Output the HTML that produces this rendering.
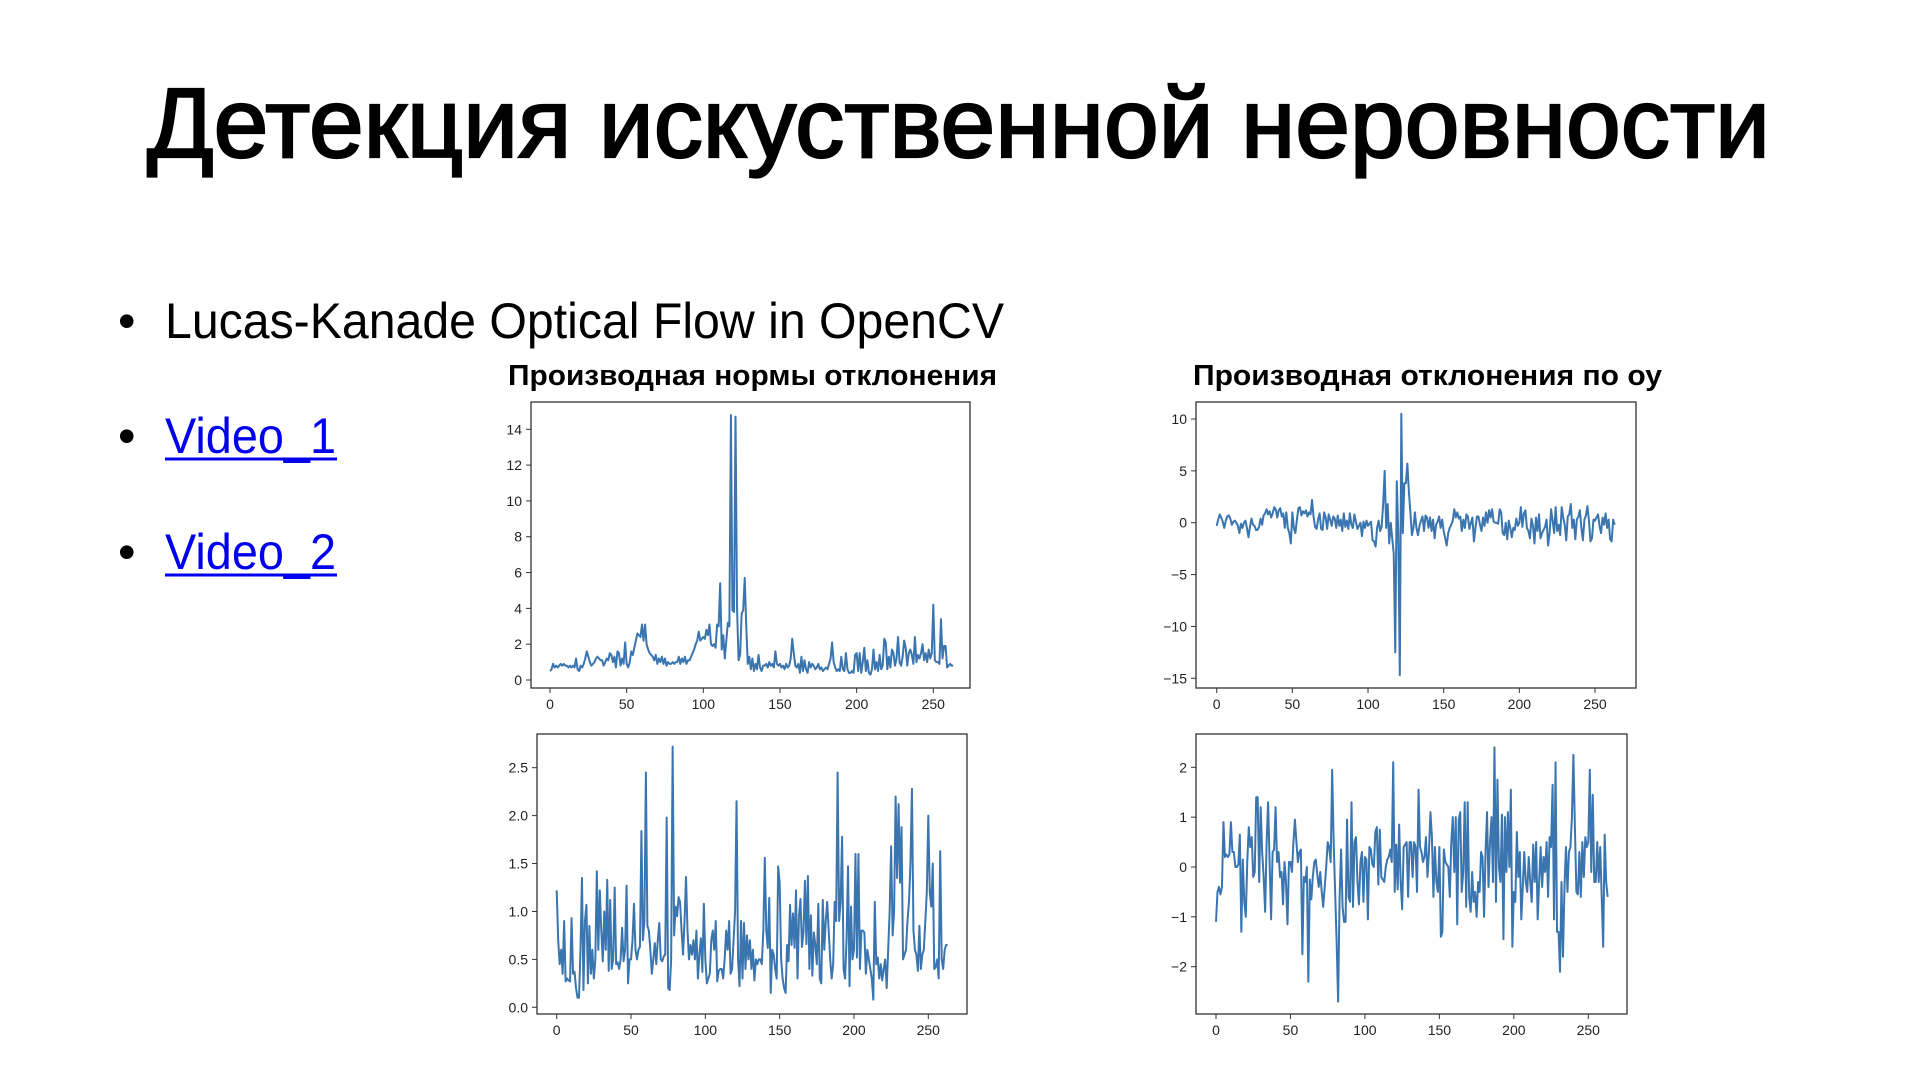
<!DOCTYPE html>
<html><head><meta charset="utf-8"><style>
html,body{margin:0;padding:0;background:#fff;}
svg{display:block;font-family:"Liberation Sans","DejaVu Sans",sans-serif;}
</style></head><body>
<svg id="s" width="1920" height="1080" viewBox="0 0 1920 1080">
<text x="147" y="157" font-size="98" stroke="#000" stroke-width="2.2" textLength="1623" lengthAdjust="spacingAndGlyphs">Детекция искуственной неровности</text>
<text x="118" y="338" font-size="50">•</text>
<text x="165" y="338" font-size="50" textLength="839" lengthAdjust="spacingAndGlyphs">Lucas-Kanade Optical Flow in OpenCV</text>
<text x="118" y="453" font-size="50">•</text>
<text x="165" y="453" font-size="50" fill="#0000ee" textLength="171" lengthAdjust="spacingAndGlyphs">Video_1</text>
<line x1="165" y1="459" x2="337" y2="459" stroke="#0000ee" stroke-width="3"/>
<text x="118" y="569" font-size="50">•</text>
<text x="165" y="569" font-size="50" fill="#0000ee" textLength="171" lengthAdjust="spacingAndGlyphs">Video_2</text>
<line x1="165" y1="575" x2="337" y2="575" stroke="#0000ee" stroke-width="3"/>
<text x="508" y="385" font-size="29" font-weight="bold" textLength="489" lengthAdjust="spacingAndGlyphs">Производная нормы отклонения</text>
<text x="1193" y="385" font-size="29" font-weight="bold" textLength="469" lengthAdjust="spacingAndGlyphs">Производная отклонения по оу</text>
</svg>
<script>
const xTicks = [0,50,100,150,200,250];
const normTicks = [0,2,4,6,8,10,12,14];
const oyTicks = [-15,-10,-5,0,5,10];
const norm2Ticks = [0.0,0.5,1.0,1.5,2.0,2.5];
const oy2Ticks = [-2,-1,0,1,2];
const normValues = [
0.5,0.6,0.9,0.7,0.8,0.7,0.8,0.9,0.8,0.9,
0.8,0.8,0.7,0.8,0.7,0.8,0.7,1.2,0.6,0.5,
0.8,0.7,0.9,1.2,1.6,1.3,1.0,0.8,0.9,1.0,
1.2,1.3,1.2,1.1,1.1,0.8,1.0,1.2,1.1,1.5,
1.4,1.0,1.3,0.7,1.6,1.5,0.8,1.2,0.9,2.1,
0.9,0.7,1.0,1.6,1.4,1.8,2.2,2.6,2.5,2.4,
3.1,2.2,3.1,2.0,1.7,1.5,1.4,1.3,1.1,1.4,
0.9,1.2,1.0,1.3,0.9,1.2,0.8,1.0,0.9,0.9,
1.0,0.9,1.0,1.0,1.3,0.9,1.2,1.0,1.3,0.9,
1.1,1.1,1.3,1.5,1.7,2.0,2.2,2.7,2.2,2.3,
2.4,2.3,2.8,2.5,3.1,2.0,1.9,2.0,1.8,3.1,
3.0,5.4,1.7,2.5,1.2,2.2,3.2,3.0,14.8,3.9,
3.8,14.7,4.0,1.1,1.4,3.7,3.9,5.7,3.0,0.9,
1.3,0.6,1.2,0.5,0.9,0.6,1.4,0.7,0.5,0.8,
0.8,0.9,0.7,1.0,0.8,0.9,0.7,1.6,0.9,0.8,
0.9,0.7,0.8,0.6,0.9,0.7,0.8,1.2,2.3,1.5,
0.8,0.7,0.9,0.4,1.3,0.5,1.1,0.6,0.4,1.0,
0.7,0.9,0.8,0.6,0.7,0.9,0.6,0.7,0.5,0.6,
0.7,0.6,0.9,1.2,2.1,1.0,0.7,0.5,0.6,0.5,
1.3,0.6,0.5,1.5,0.6,0.4,0.4,0.5,0.4,1.4,
1.5,0.5,1.5,0.4,1.0,1.8,0.5,1.1,0.4,0.3,
0.6,1.7,0.6,1.0,0.5,1.4,0.6,0.8,2.3,2.1,
0.6,1.3,0.7,1.7,1.5,0.8,1.2,2.4,1.0,0.8,
1.3,2.2,1.8,0.8,1.5,1.7,1.4,0.9,2.4,1.0,
1.4,1.2,1.5,2.0,1.1,1.5,1.0,1.7,1.2,1.5,
4.2,1.1,1.0,1.0,0.9,3.4,1.2,1.9,1.9,0.7,
0.8,0.9,0.8,0.8];
const oyValues = [
-0.3,0.3,0.8,0.5,0.1,-0.5,0.2,0.6,0.7,0.4,
-0.2,0.1,0.2,0.0,-0.3,-1.0,-0.1,-0.5,0.0,0.2,
-0.5,-1.4,-0.4,0.4,-0.2,-0.3,-0.7,-0.7,-0.4,0.4,
-0.2,0.7,0.9,1.3,0.8,1.1,0.5,0.9,1.5,1.3,
0.5,1.2,1.4,0.6,0.9,-0.5,1.0,-0.5,-1.0,-2.0,
1.0,-0.5,-1.0,0.3,1.4,1.5,0.7,1.1,0.9,1.2,
0.6,1.0,0.8,2.2,0.6,-0.4,-0.6,0.3,0.9,-0.6,
-0.7,1.0,0.5,-0.6,0.8,0.3,-0.3,0.6,0.4,-0.5,
0.7,-0.3,0.3,-0.8,0.9,-0.4,0.2,-0.6,0.9,-0.2,
-0.5,0.8,0.1,-0.6,-0.3,0.0,-1.3,0.1,-0.5,0.2,
-0.3,-0.1,0.1,-1.7,-1.8,-2.3,-0.5,0.2,-0.8,-0.4,
1.8,5.0,-0.5,1.8,-2.0,0.0,-1.5,-3.0,-12.5,4.0,
-1.0,-14.7,10.5,-1.0,3.8,3.8,5.7,3.0,1.0,-1.2,
-0.5,1.0,-0.5,-1.2,-0.3,0.2,0.6,-0.8,0.7,0.5,
-0.5,0.5,-0.8,0.3,-1.5,-0.2,0.1,0.6,-0.5,0.3,
-0.8,-1.5,-2.2,-1.0,-0.5,-0.2,0.2,1.3,0.5,1.0,
0.4,0.6,-0.8,0.3,-0.5,0.8,0.6,-0.6,0.0,0.5,
-1.8,-0.5,0.6,0.6,-0.2,-0.8,0.5,-0.3,1.0,0.0,
1.2,0.5,1.3,0.1,0.0,0.0,-0.1,1.3,1.0,-1.0,
-1.2,0.0,-1.6,0.2,-0.5,-1.4,-0.5,-0.7,0.4,-0.3,
0.0,1.5,-0.4,0.9,1.2,-0.5,-0.8,-1.5,0.4,-0.3,
-2.0,0.5,-0.8,0.8,-1.5,-1.0,-0.7,-0.4,0.3,-2.2,
-1.0,1.3,0.2,-1.0,1.5,-0.8,-0.2,-1.2,1.5,0.5,
-0.2,-1.7,0.6,0.8,1.8,-0.5,0.3,-1.6,0.3,0.6,
1.2,-0.5,-1.7,0.3,0.7,1.6,0.2,-1.8,-1.5,0.3,
0.2,0.5,0.8,-0.3,-1.0,0.5,-0.2,0.9,-0.5,0.3,
-1.6,-1.8,0.3,-0.2];
const norm2Values = [
1.22,0.7,0.45,0.6,0.35,0.9,0.27,0.3,0.28,0.27,
0.93,0.35,0.37,0.2,0.1,0.1,0.6,1.35,0.18,0.9,
1.07,0.25,0.85,0.35,0.6,0.3,0.5,1.42,0.6,1.22,
0.8,0.48,1.0,0.6,1.33,0.38,1.12,0.4,0.5,1.25,
0.45,0.47,0.4,0.5,0.83,0.48,0.6,1.27,0.25,0.5,
0.5,0.7,1.08,0.6,0.5,0.6,0.63,1.84,0.7,0.9,
2.45,0.85,0.8,0.6,0.35,0.5,0.67,0.45,0.7,0.88,
0.5,0.48,0.53,0.55,1.98,0.2,0.18,0.5,2.72,0.75,
1.05,0.95,1.15,1.1,0.8,0.55,0.9,1.36,0.8,0.5,
0.65,0.55,0.7,0.5,0.8,0.3,0.55,0.72,0.37,1.08,
0.5,0.25,0.3,0.35,0.7,0.8,0.6,0.9,0.27,0.38,
0.4,0.4,0.3,0.5,0.8,0.6,0.9,0.35,0.4,0.7,
1.0,2.15,0.5,0.22,0.9,0.3,0.88,0.4,0.75,0.5,
0.7,0.4,0.6,0.28,0.5,0.45,0.5,0.5,0.45,0.8,
1.56,0.8,0.62,1.14,0.15,0.6,0.55,0.4,0.3,1.47,
1.3,0.5,0.3,0.2,0.15,0.65,0.48,1.07,0.65,0.98,
0.62,1.22,0.3,0.95,1.13,0.63,0.78,1.32,0.66,1.37,
0.4,0.96,0.33,0.78,0.65,0.45,1.08,0.3,0.25,1.12,
0.6,0.9,1.1,0.8,0.5,0.3,0.45,1.1,0.9,2.45,
0.9,1.1,1.78,0.4,0.3,0.7,1.47,0.22,1.05,0.5,
0.6,1.6,0.52,1.6,0.4,0.8,0.8,0.78,0.35,0.6,
0.5,0.4,0.3,0.08,1.1,0.45,0.52,0.3,0.45,0.28,
0.4,0.5,0.2,0.6,1.0,1.68,0.75,1.0,2.2,1.35,
2.12,1.3,1.88,0.5,0.55,0.6,0.9,1.1,1.5,2.28,
0.8,0.6,0.55,0.38,0.85,0.4,0.55,0.6,0.9,1.2,
2.0,1.2,1.05,1.5,0.4,0.42,0.5,0.3,1.63,0.5,
0.4,0.6,0.65,0.65];
const oy2Values = [
-1.1,-0.5,-0.4,-0.55,-0.4,0.9,0.2,0.25,0.2,0.25,
0.9,0.3,0.3,0.0,0.0,0.05,0.65,-1.3,0.15,-0.7,
-1.0,0.1,0.8,0.4,0.6,-0.2,-0.1,1.4,1.4,-0.3,
1.2,0.3,-0.2,-0.9,0.5,1.3,0.1,-1.05,0.3,0.35,
1.2,0.1,0.3,-0.2,-0.1,-0.75,0.1,-0.3,-1.15,0.1,
0.1,-0.1,0.5,0.95,0.5,0.1,0.3,0.35,-1.75,-0.2,
-0.3,0.0,-2.3,-0.25,-0.65,-0.2,0.1,0.15,-0.15,-0.4,
-0.1,-0.5,-0.8,-0.4,0.0,0.5,0.4,0.1,1.95,0.5,
-0.5,-1.5,-2.7,-0.6,0.35,-0.8,-1.1,-1.1,0.95,-0.6,
-0.7,1.3,-0.8,0.5,0.6,-0.3,-0.75,0.1,0.3,-0.7,
0.2,0.15,-1.05,0.4,0.35,0.05,0.0,0.7,0.8,-0.35,
0.75,-0.2,-0.25,-0.3,0.0,0.15,0.2,0.35,0.1,2.1,
-0.5,0.45,-0.45,0.85,-0.3,-0.85,0.4,0.45,0.5,-0.6,
0.5,0.5,-0.2,0.5,0.4,-0.5,1.55,0.4,0.3,0.1,
0.2,0.6,-0.2,0.3,1.1,0.6,-0.6,0.4,-0.3,-0.5,
0.4,-1.4,-1.3,0.35,0.1,0.05,0.0,-0.6,0.5,1.0,
-0.1,1.0,-1.15,0.95,1.1,-0.5,-0.1,1.3,-0.8,1.3,
-0.6,-0.9,-0.1,-0.7,-0.5,-1.0,-0.3,-0.5,0.3,0.2,
-1.0,0.3,1.1,-0.4,0.5,1.0,-0.3,2.4,-0.7,1.75,
0.0,-0.3,1.05,-1.45,1.0,-0.1,1.1,0.0,1.55,-1.6,
-0.5,-0.7,0.7,-0.2,0.3,-1.05,-0.4,0.3,-0.3,-0.5,
0.2,-0.3,-0.7,0.45,-0.3,0.5,-1.05,-0.3,0.4,-0.4,
0.2,-0.1,0.5,-0.6,0.6,0.4,1.65,-1.05,2.1,-1.3,
-1.3,-2.1,-0.3,-1.8,-0.4,0.4,-0.5,0.3,0.4,1.0,
2.25,0.8,-0.5,-0.55,0.3,-0.6,0.5,-0.2,0.6,0.4,
0.5,1.95,-0.1,1.45,-0.3,-0.3,0.5,-0.3,0.4,-0.6,
-1.6,0.65,-0.3,-0.6];

const NS = 'http://www.w3.org/2000/svg';
const svg = document.getElementById('s');
function mk(tag, attrs, parent){
  const e = document.createElementNS(NS, tag);
  for (const k in attrs) e.setAttribute(k, attrs[k]);
  (parent||svg).appendChild(e);
  return e;
}
function chart(cfg, values, yTicks, fmt, name){
  const g = mk('g', {});
  
  
  const xs = v => cfg.x0 + (v - 0) * (cfg.x250 - cfg.x0) / 250;
  const ys = v => cfg.yA + (v - cfg.vA) * (cfg.yB - cfg.yA) / (cfg.vB - cfg.vA);
  let d = '';
  values.forEach((v, i) => { d += (i ? 'L' : 'M') + xs(i).toFixed(2) + ' ' + ys(v).toFixed(2); });
  const line = mk('path', {d: d, fill: 'none', stroke: '#3a75b0', 'stroke-width': 2, 'stroke-linejoin': 'round'}, g);
  
  
  const fr = mk('rect', {x: cfg.L, y: cfg.T, width: cfg.R - cfg.L, height: cfg.B - cfg.T, fill: 'none', stroke: '#333', 'stroke-width': 1.3}, g);
  
  
  xTicks.forEach(t => {
    const x = xs(t);
    mk('line', {x1: x, x2: x, y1: cfg.B, y2: cfg.B + 5, stroke: '#333', 'stroke-width': 1}, g);
    const tx = mk('text', {x: x, y: cfg.B + 21, 'font-size': 14, 'text-anchor': 'middle', fill: '#222'}, g);
    tx.textContent = t;
    
    
  });
  yTicks.forEach(t => {
    const y = ys(t);
    mk('line', {x1: cfg.L - 5, x2: cfg.L, y1: y, y2: y, stroke: '#333', 'stroke-width': 1}, g);
    const tx = mk('text', {x: cfg.L - 9, y: y + 5, 'font-size': 14, 'text-anchor': 'end', fill: '#222'}, g);
    tx.textContent = fmt(t);
    
    
  });
}
const minus = t => (t < 0 ? '\u2212' + Math.abs(t) : '' + t);
chart({L:531,R:970,T:402,B:688,x0:550,x250:933.3,vA:0,yA:680,vB:14,yB:429.3}, normValues, normTicks, minus, 'chart-norm-derivative');
chart({L:1196,R:1636,T:402,B:688,x0:1216.7,x250:1595,vA:10,yA:419,vB:-15,yB:678.3}, oyValues, oyTicks, minus, 'chart-oy-derivative');
chart({L:537,R:967,T:734,B:1014,x0:556.7,x250:928.3,vA:0,yA:1007.3,vB:2.5,yB:767.7}, norm2Values, norm2Ticks, t => t.toFixed(1), 'chart-norm-video2');
chart({L:1196,R:1627,T:734,B:1014,x0:1216,x250:1588.3,vA:2,yA:767.3,vB:-2,yB:966.7}, oy2Values, oy2Ticks, minus, 'chart-oy-video2');
</script>
</body></html>
